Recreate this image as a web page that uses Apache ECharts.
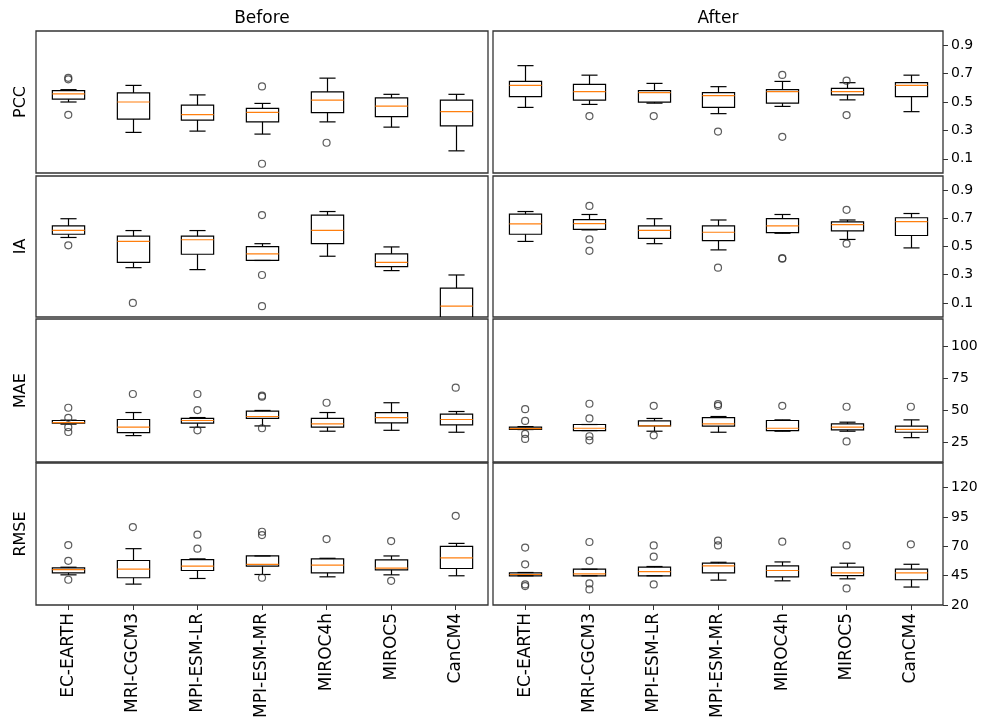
<!DOCTYPE html>
<html>
<head>
<meta charset="utf-8">
<script src="https://cdn.jsdelivr.net/npm/echarts@6/dist/echarts.min.js"></script>
<style>
  html, body { margin: 0; padding: 0; background: #fff; }
  #chart { width: 985px; height: 722px; }
</style>
</head>
<body>
<div id="chart"></div>
<script>
// models on the x axis
var models = ['EC-EARTH', 'MRI-CGCM3', 'MPI-ESM-LR', 'MPI-ESM-MR', 'MIROC4h', 'MIROC5', 'CanCM4'];

// box stats per model: [lower whisker, q1, median, q3, upper whisker]
var pccBefore = [[0.50, 0.52, 0.557, 0.58, 0.587], [0.286, 0.38, 0.50, 0.564, 0.617], [0.295, 0.373, 0.411, 0.478, 0.55],
    [0.274, 0.36, 0.427, 0.455, 0.49], [0.36, 0.425, 0.513, 0.571, 0.668], [0.323, 0.397, 0.471, 0.529, 0.554], [0.156, 0.332, 0.432, 0.513, 0.554]];
var pccBeforeOut = [[0.67, 0.66, 0.41], [], [], [0.61, 0.065], [0.213], [], []];
var pccAfter = [[0.462, 0.538, 0.617, 0.645, 0.756], [0.483, 0.513, 0.573, 0.624, 0.689], [0.492, 0.499, 0.566, 0.58, 0.631],
    [0.418, 0.462, 0.545, 0.566, 0.608], [0.469, 0.492, 0.573, 0.587, 0.645], [0.515, 0.55, 0.573, 0.596, 0.636], [0.432, 0.538, 0.617, 0.636, 0.689]];
var pccAfterOut = [[], [0.401], [0.401], [0.292], [0.691, 0.255], [0.65, 0.408], []];

var iaBefore = [[0.564, 0.587, 0.615, 0.646, 0.697], [0.35, 0.387, 0.536, 0.573, 0.613], [0.336, 0.445, 0.548, 0.573, 0.613],
    [0.401, 0.401, 0.448, 0.499, 0.52], [0.431, 0.52, 0.615, 0.723, 0.748], [0.329, 0.357, 0.387, 0.448, 0.497], [-0.15, -0.05, 0.077, 0.205, 0.298]];
var iaBeforeOut = [[0.508], [0.10], [], [0.723, 0.298, 0.077], [], [], []];
var iaAfter = [[0.536, 0.587, 0.66, 0.73, 0.748], [0.618, 0.622, 0.662, 0.69, 0.727], [0.52, 0.557, 0.615, 0.646, 0.697],
    [0.476, 0.541, 0.601, 0.646, 0.688], [0.594, 0.599, 0.646, 0.697, 0.727], [0.55, 0.611, 0.655, 0.674, 0.688], [0.49, 0.578, 0.676, 0.704, 0.734]];
var iaAfterOut = [[], [0.788, 0.55, 0.469], [], [0.35], [0.417, 0.413], [0.76, 0.52], []];

var maeBefore = [[39.4, 40.1, 40.6, 42.2, 42.5], [30.5, 32.8, 37.0, 43.0, 48.4], [37.0, 40.1, 42.2, 43.8, 44.5],
    [38.0, 43.8, 45.3, 49.5, 50.0], [33.9, 37.0, 39.6, 43.8, 48.4], [34.6, 40.4, 44.5, 48.4, 56.0], [33.1, 38.8, 43.0, 47.1, 49.2]];
var maeBeforeOut = [[52.1, 44.3, 37.0, 33.3], [62.8], [62.8, 50.3, 34.6], [61.5, 60.7, 36.2], [56.0], [], [67.7]];
var maeAfter = [[35.2, 35.4, 35.9, 37.0, 37.5], [34.4, 34.4, 36.2, 39.1, 39.1], [33.9, 38.0, 38.0, 41.9, 43.8],
    [33.1, 37.8, 39.6, 44.5, 45.3], [33.9, 34.4, 36.2, 42.2, 42.7], [33.9, 34.9, 37.0, 39.6, 40.9], [28.9, 33.1, 35.4, 37.8, 42.7]];
var maeAfterOut = [[51.0, 41.9, 31.8, 27.9], [55.2, 43.8, 30.0, 26.8], [53.6, 30.7], [54.9, 53.6], [53.6], [52.9, 26.0], [52.9]];

var rmseBefore = [[45.7, 47.4, 50.2, 51.6, 52.2], [37.8, 43.2, 50.5, 57.9, 68.0], [42.6, 49.4, 53.1, 58.7, 59.3],
    [46.0, 53.1, 54.7, 61.8, 61.8], [44.0, 47.4, 53.9, 59.3, 59.8], [45.7, 49.9, 51.4, 58.4, 61.8], [44.9, 51.1, 60.1, 70.0, 72.5]];
var rmseBeforeOut = [[71.1, 57.6, 41.5], [86.4], [79.9, 68.0], [82.4, 79.6, 43.2], [76.2], [74.5, 40.6], [96.0]];
var rmseAfter = [[44.9, 44.9, 46.0, 47.4, 47.7], [44.9, 44.9, 46.6, 50.5, 50.5], [44.9, 44.9, 48.5, 52.2, 52.8],
    [41.2, 47.4, 53.3, 55.6, 56.4], [40.6, 44.0, 49.4, 53.3, 56.7], [42.3, 45.1, 47.4, 52.2, 55.6], [35.3, 41.5, 47.4, 50.5, 54.7]];
var rmseAfterOut = [[68.9, 54.7, 37.5, 36.1], [73.7, 57.6, 38.4, 33.3], [70.8, 61.2, 37.5], [74.9, 70.8], [74.0], [70.8, 34.1], [71.7]];

// y tick labels
var pccTicks = [0.1, 0.3, 0.5, 0.7, 0.9];
var iaTicks = [0.1, 0.3, 0.5, 0.7, 0.9];
var maeTicks = [25, 50, 75, 100];
var rmseTicks = [20, 45, 70, 95, 120];

var rows = [
    {name: 'PCC', data: [pccBefore, pccAfter], out: [pccBeforeOut, pccAfterOut], min: 0, max: 1, ticks: pccTicks},
    {name: 'IA', data: [iaBefore, iaAfter], out: [iaBeforeOut, iaAfterOut], min: 0, max: 1, ticks: iaTicks},
    {name: 'MAE', data: [maeBefore, maeAfter], out: [maeBeforeOut, maeAfterOut], min: 10, max: 121, ticks: maeTicks},
    {name: 'RMSE', data: [rmseBefore, rmseAfter], out: [rmseBeforeOut, rmseAfterOut], min: 20, max: 141, ticks: rmseTicks}
];

// layout of the 4x2 panels (px)
var colLeft = [36, 493];
var colWidth = [452, 450];
var rowTop = [31, 176, 319, 463];
var rowHeight = [142, 141, 143, 142];

// matplotlib-like box: half-width box, caps a quarter of the band
function renderBox(params, api) {
    var i = api.value(0);
    var pLow = api.coord([i, api.value(1)]);
    var pQ1 = api.coord([i, api.value(2)]);
    var pMed = api.coord([i, api.value(3)]);
    var pQ3 = api.coord([i, api.value(4)]);
    var pHigh = api.coord([i, api.value(5)]);
    var band = api.size([1, 0])[0];
    var half = band * 0.25;
    var cap = band * 0.125;
    var x = Math.round(pMed[0]) + 0.5;
    var blk = {stroke: '#000', lineWidth: 1.2};
    return {
        type: 'group',
        children: [
            {type: 'line', shape: {x1: x, y1: pQ3[1], x2: x, y2: pHigh[1]}, style: blk},
            {type: 'line', shape: {x1: x, y1: pQ1[1], x2: x, y2: pLow[1]}, style: blk},
            {type: 'line', shape: {x1: x - cap, y1: pHigh[1], x2: x + cap, y2: pHigh[1]}, style: blk},
            {type: 'line', shape: {x1: x - cap, y1: pLow[1], x2: x + cap, y2: pLow[1]}, style: blk},
            {type: 'rect', shape: {x: x - half, y: pQ3[1], width: 2 * half, height: pQ1[1] - pQ3[1]},
                style: {fill: 'rgba(0,0,0,0)', stroke: '#000', lineWidth: 1.2}},
            {type: 'line', shape: {x1: x - half, y1: pMed[1], x2: x + half, y2: pMed[1]},
                style: {stroke: '#ff7f0e', lineWidth: 1.2}}
        ]
    };
}

var grids = [], xAxes = [], yAxes = [], series = [];
var k = 0;
for (var r = 0; r < rows.length; r++) {
    for (var c = 0; c < 2; c++) {
        var row = rows[r];
        var last = (r === rows.length - 1);
        grids.push({
            left: colLeft[c], top: rowTop[r], width: colWidth[c], height: rowHeight[r],
            show: true, borderColor: '#333', borderWidth: 1.3, backgroundColor: '#fff',
            containLabel: false, outerBoundsMode: 'none'
        });
        xAxes.push({
            type: 'category', gridIndex: k, data: models, boundaryGap: true,
            axisLine: {show: false},
            axisTick: {show: last, alignWithLabel: true, length: 5, lineStyle: {color: '#333'}},
            axisLabel: {show: last, rotate: 90, interval: 0, fontSize: 17, margin: 8, color: '#000'},
            splitLine: {show: false}
        });
        var y = {
            type: 'value', gridIndex: k, min: row.min, max: row.max,
            position: c === 0 ? 'left' : 'right',
            axisLine: {show: false},
            splitLine: {show: false}
        };
        if (c === 0) {
            y.name = row.name;
            y.nameLocation = 'middle';
            y.nameRotate = 90;
            y.nameGap = 7;
            y.nameTextStyle = {fontSize: 16, color: '#000'};
            y.axisTick = {show: false};
            y.axisLabel = {show: false};
        } else {
            y.axisTick = {show: true, length: 5, lineStyle: {color: '#333'}, customValues: row.ticks};
            y.axisLabel = {show: true, fontSize: 14, margin: 8, color: '#000', customValues: row.ticks};
        }
        yAxes.push(y);

        var boxData = row.data[c].map(function (s, i) { return [i, s[0], s[1], s[2], s[3], s[4]]; });
        series.push({
            type: 'custom', xAxisIndex: k, yAxisIndex: k, clip: true, silent: true,
            renderItem: renderBox,
            encode: {x: 0, y: [1, 2, 3, 4, 5]},
            data: boxData
        });

        var outData = [];
        row.out[c].forEach(function (vals, i) {
            vals.forEach(function (v) { outData.push([i, v]); });
        });
        series.push({
            type: 'scatter', xAxisIndex: k, yAxisIndex: k, silent: true,
            symbol: 'circle', symbolSize: 7,
            itemStyle: {color: 'rgba(0,0,0,0)', borderColor: '#333', borderWidth: 1.2},
            data: outData
        });
        k++;
    }
}

var chart = echarts.init(document.getElementById('chart'));
option = {
    backgroundColor: '#fff',
    animation: false,
    textStyle: {fontFamily: 'DejaVu Sans'},
    graphic: [
        {type: 'text', x: 262, y: 19, style: {text: 'Before', fontSize: 17, fontFamily: 'DejaVu Sans', fill: '#000', align: 'center', verticalAlign: 'middle'}},
        {type: 'text', x: 718, y: 19, style: {text: 'After', fontSize: 17, fontFamily: 'DejaVu Sans', fill: '#000', align: 'center', verticalAlign: 'middle'}}
    ],
    grid: grids,
    xAxis: xAxes,
    yAxis: yAxes,
    series: series
};
chart.setOption(option);
</script>
</body>
</html>
